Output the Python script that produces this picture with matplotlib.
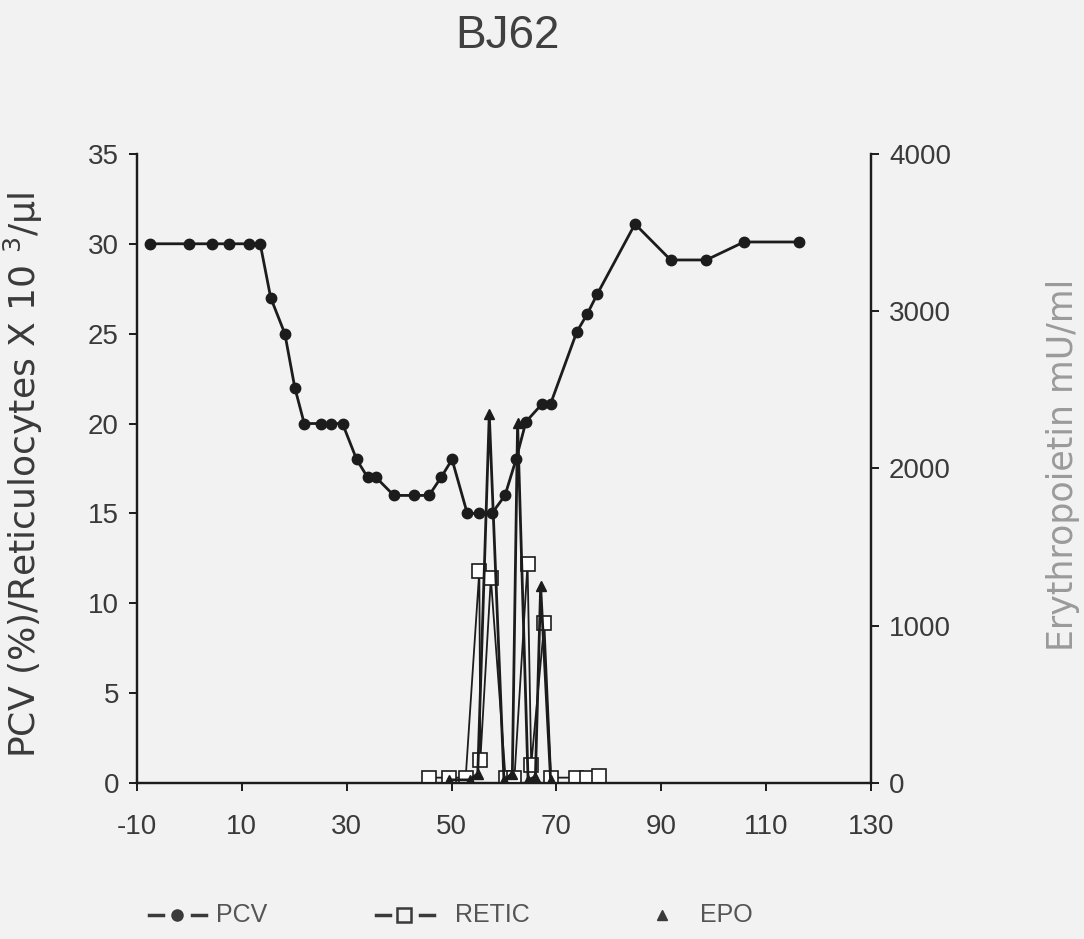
import numpy as np
import matplotlib
matplotlib.use("Agg")
import matplotlib.pyplot as plt

plt.rcParams['font.family'] = ['Liberation Sans', 'DejaVu Sans']

# PCV (%), left axis
pcv_day = [-7.5, 0, 4.3, 7.5, 11.4, 13.5, 15.5, 18.2, 20.1, 21.9, 25.1, 27.0, 29.2,
           31.9, 34.0, 35.6, 39.0, 42.9, 45.7, 48.0, 50.1, 53.0, 55.3, 57.7, 60.2,
           62.3, 64.2, 67.3, 68.9, 73.9, 75.9, 77.8, 85.0, 91.8, 98.6, 105.8, 116.2]
pcv_val = [30, 30, 30, 30, 30, 30, 27, 25, 22, 20, 20, 20, 20,
           18, 17, 17, 16, 16, 16, 17, 18, 15, 15, 15, 16,
           18, 20.1, 21.1, 21.1, 25.1, 26.1, 27.2, 31.1, 29.1, 29.1, 30.1, 30.1]

# reticulocytes x10^3/ul, left axis
retic_day = [45.7, 49.5, 52.7, 55.3, 55.5, 57.5, 60.3, 62.0, 64.5, 65.2, 67.7, 69.0, 73.7, 75.9, 78.2]
retic_val = [0.3, 0.3, 0.3, 11.8, 1.3, 11.4, 0.3, 0.3, 12.2, 1.0, 8.9, 0.3, 0.3, 0.3, 0.4]

# erythropoietin mU/ml, right axis
epo_day = [49.5, 53.5, 55.0, 57.2, 60.0, 61.6, 62.6, 64.6, 66.0, 67.0, 68.9]
epo_val = [20, 20, 60, 2345, 20, 60, 2290, 20, 40, 1250, 20]

xticks = [-10, 10, 30, 50, 70, 90, 110, 130]
yticks = [0, 5, 10, 15, 20, 25, 30, 35]
y2ticks = [0, 1000, 2000, 3000, 4000]

bg = "#f2f2f2"
ink = "#1c1c1c"
txt = "#3a3a3a"

fig = plt.figure(figsize=(10.84, 9.39), dpi=100, facecolor=bg)
ax = fig.add_axes([0.1264, 0.1661, 0.677, 0.670])
ax.set_facecolor(bg)
ax2 = ax.twinx()

ax.plot(pcv_day, pcv_val, color=ink, lw=2.0, marker="o", ms=7.5, mfc=ink, mec=ink, zorder=5)
ax.plot(retic_day, retic_val, color=ink, lw=1.3, marker="s", ms=10, mfc="white",
        mec=ink, mew=1.2, zorder=4)
ax2.plot(epo_day, epo_val, color=ink, lw=2.0, marker="^", ms=7, mfc=ink, mec=ink, zorder=6)

ax.set_xlim(-10, 130)
ax.set_ylim(0, 35)
ax2.set_ylim(0, 4000)
ax.set_xticks(xticks)
ax.set_xticklabels([str(t) for t in xticks])
ax.set_yticks(yticks)
ax2.set_yticks(y2ticks)

for a in (ax, ax2):
    a.spines["top"].set_visible(False)
    for s in ("left", "right", "bottom"):
        a.spines[s].set_color(ink)
        a.spines[s].set_linewidth(1.6)
    a.tick_params(direction="out", length=6, width=1.4, color=ink,
                  labelsize=20, labelcolor=txt, pad=7)
ax.tick_params(axis="x", pad=16)

ax.set_ylabel("PCV (%)/Reticulocytes X 10 $^{3}$/µl", fontsize=26, color=txt,
              family=["DejaVu Sans"])
ax.yaxis.set_label_coords(-0.125, 0.49)
ax2.set_ylabel("Erythropoietin mU/ml", fontsize=25, color="#9a9a9a", rotation=90,
               family=["DejaVu Sans"])
ax2.yaxis.set_label_coords(1.238, 0.505)

fig.text(0.468, 0.962, "BJ62", fontsize=33, color="#404040", ha="center", va="center")

# legend row at the bottom
ly = 0.026
fig.lines.append(plt.Line2D([0.137, 0.150], [ly, ly], transform=fig.transFigure, color=txt, lw=2.5))
fig.lines.append(plt.Line2D([0.177, 0.190], [ly, ly], transform=fig.transFigure, color=txt, lw=2.5))
fig.lines.append(plt.Line2D([0.163], [ly], transform=fig.transFigure, marker="o", ms=8, color=txt))
fig.text(0.199, ly, "PCV", fontsize=18, color="#555555", va="center")
fig.lines.append(plt.Line2D([0.347, 0.360], [ly, ly], transform=fig.transFigure, color=txt, lw=2.5))
fig.lines.append(plt.Line2D([0.387, 0.400], [ly, ly], transform=fig.transFigure, color=txt, lw=2.5))
fig.lines.append(plt.Line2D([0.373], [ly], transform=fig.transFigure, marker="s", ms=10,
                            mfc=bg, mec=txt, mew=1.8))
fig.text(0.42, ly, "RETIC", fontsize=18, color="#555555", va="center")
fig.lines.append(plt.Line2D([0.611], [ly], transform=fig.transFigure, marker="^", ms=7, color=txt))
fig.text(0.646, ly, "EPO", fontsize=18, color="#555555", va="center")

fig.savefig("out.png", dpi=100, facecolor=bg)
